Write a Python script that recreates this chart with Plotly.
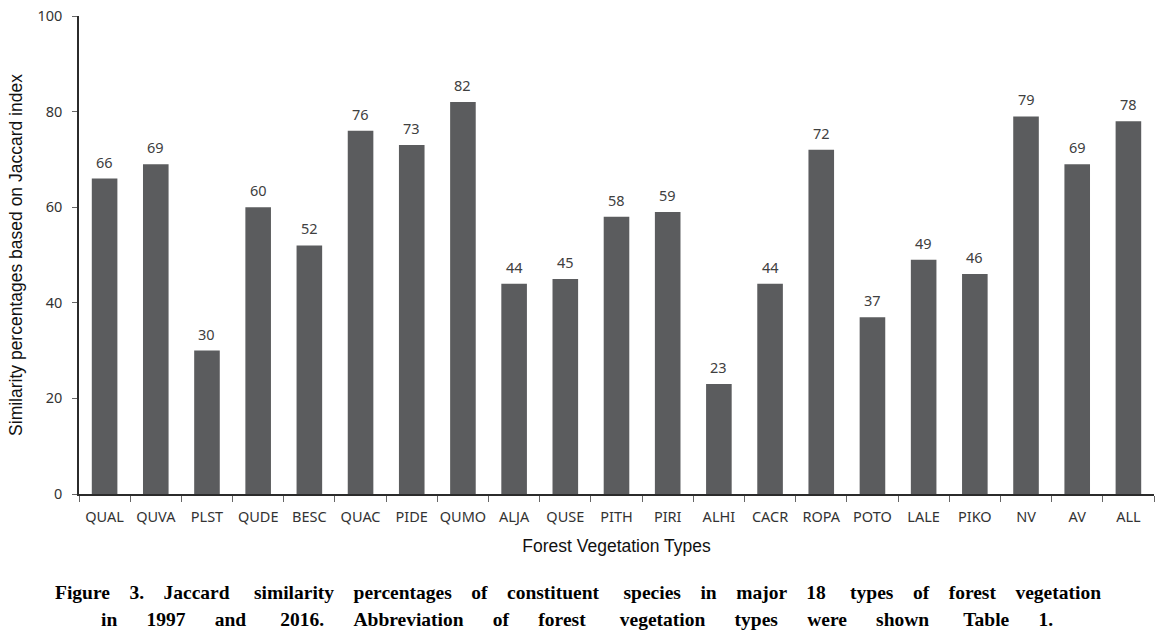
import plotly.graph_objects as go

categories = ["QUAL", "QUVA", "PLST", "QUDE", "BESC", "QUAC", "PIDE", "QUMO", "ALJA", "QUSE",
              "PITH", "PIRI", "ALHI", "CACR", "ROPA", "POTO", "LALE", "PIKO", "NV", "AV", "ALL"]
values = [66, 69, 30, 60, 52, 76, 73, 82, 44, 45, 58, 59, 23, 44, 72, 37, 49, 46, 79, 69, 78]
y_ticks = [0, 20, 40, 60, 80, 100]

font_ticks = "Noto Sans, Open Sans, DejaVu Sans, sans-serif"
font_title = "Liberation Sans, Arial, sans-serif"
serif = "Liberation Serif, Times New Roman, serif"

fig = go.Figure()
fig.add_trace(go.Bar(
    x=categories, y=values,
    marker=dict(color="#5b5c5e", line=dict(width=0)),
    width=0.5,
    cliponaxis=False,
))

for c, v in zip(categories, values):
    fig.add_annotation(x=c, y=v, text=str(v), showarrow=False, yanchor="middle", yshift=17,
                       font=dict(family=font_ticks, size=14.5, color="#404040"))

fig.update_layout(
    width=1174, height=637,
    margin=dict(l=79, r=20, t=16, b=143, autoexpand=False),
    plot_bgcolor="white", paper_bgcolor="white",
    showlegend=False,
    font=dict(family=font_ticks, color="#404040"),
)
fig.update_xaxes(
    automargin=False, tickangle=0,
    showline=True, linecolor="#2b2b2b", linewidth=1.5,
    ticks="outside", tickson="boundaries", ticklen=6, tickcolor="#666",
    ticklabelstandoff=9,
    tickfont=dict(family=font_ticks, size=14.5, color="#333"),
    title=dict(text="Forest Vegetation Types", font=dict(family=font_title, size=17.5, color="#111"), standoff=15),
    showgrid=False,
)
fig.update_yaxes(
    automargin=False,
    range=[0, 100], tickvals=y_ticks,
    showline=True, linecolor="#2b2b2b", linewidth=1.5,
    ticks="outside", ticklen=5, tickcolor="#666",
    ticklabelstandoff=7,
    tickfont=dict(family=font_ticks, size=14.5, color="#333"),
    title=dict(text="Similarity percentages based on Jaccard index", font=dict(family=font_title, size=17.5, color="#111"), standoff=10),
    showgrid=False, zeroline=False,
)

nb = "\u00a0"
words1 = ["Figure", "3.", "Jaccard", "similarity", "percentages", "of", "constituent", "species", "in",
          "major", "18", "types", "of", "forest", "vegetation"]
words2 = ["in", "1997", "and", "2016.", "Abbreviation", "of", "forest", "vegetation", "types", "were",
          "shown", "Table", "1."]

def spread(words, counts):
    out = words[0]
    for w, n in zip(words[1:], counts):
        out += " " + nb * (n - 1) + w
    return out

gaps1 = [4, 4, 5, 4, 4, 4, 5, 4, 4, 4, 5, 4, 4, 4]
gaps2 = [6, 6, 7, 6, 6, 6, 7, 6, 6, 6, 7, 6]
caption1 = spread(words1, gaps1)
caption2 = spread(words2, gaps2)
fig.add_annotation(text="<b>" + caption1 + "</b>", xref="paper", yref="paper", x=0.464, y=0,
                   yshift=-98, xanchor="center", yanchor="middle", showarrow=False,
                   font=dict(family=serif, size=19.5, color="#000"))
fig.add_annotation(text="<b>" + caption2 + "</b>", xref="paper", yref="paper", x=0.463, y=0,
                   yshift=-125, xanchor="center", yanchor="middle", showarrow=False,
                   font=dict(family=serif, size=19.5, color="#000"))

fig.write_html("out.html", config={"displayModeBar": False},
               post_script="document.body.style.margin='0';")
